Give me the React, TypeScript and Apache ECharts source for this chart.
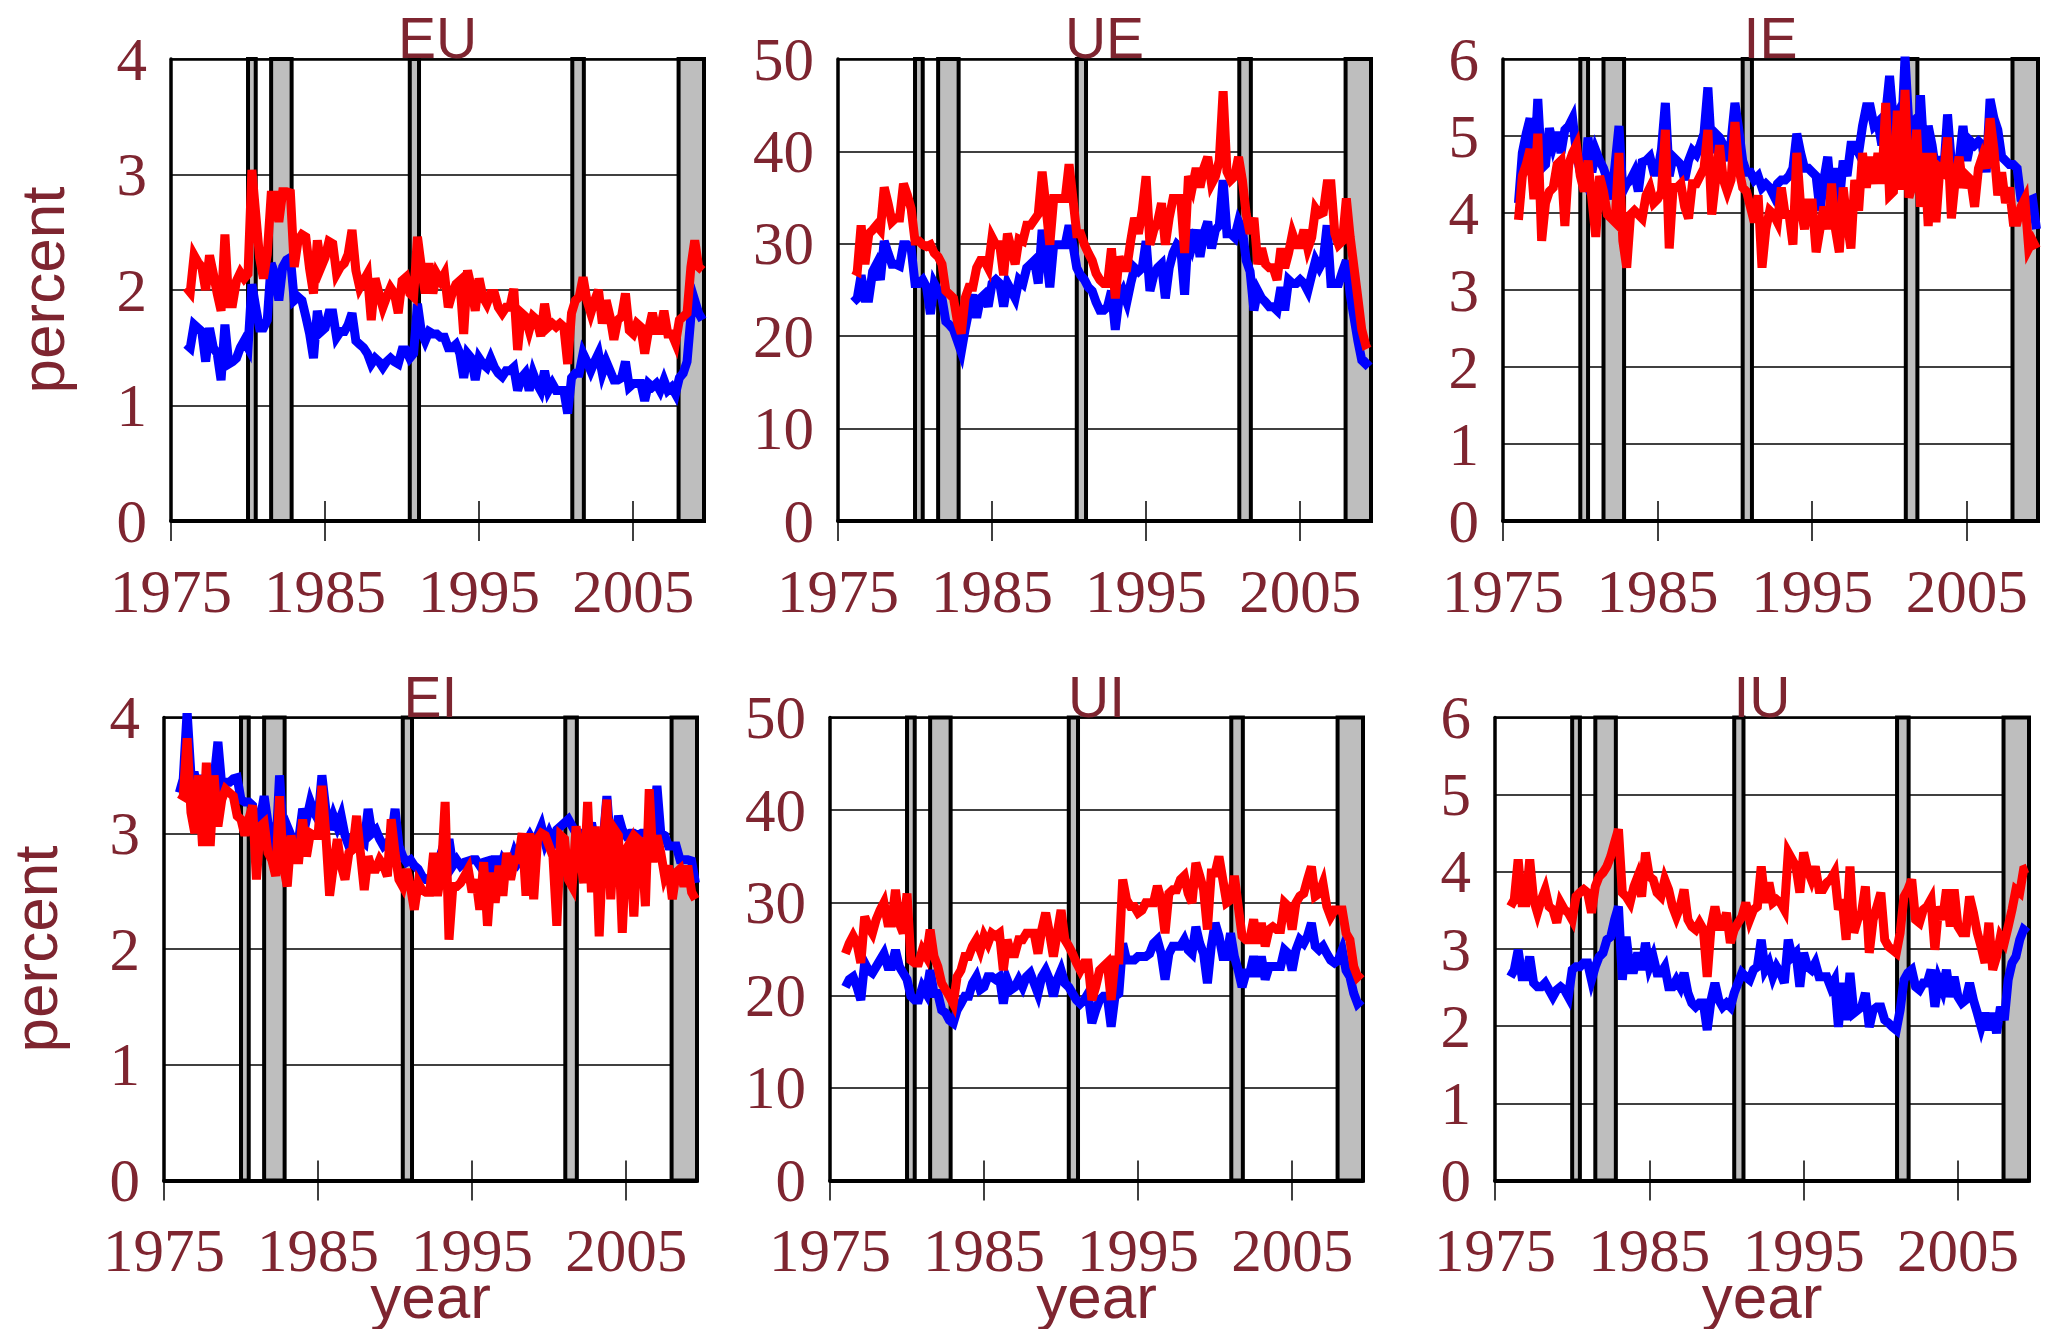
import React, { useEffect, useRef } from "react";
import * as echarts from "echarts";

// Quarterly observation dates, 1976Q1 .. 2009Q3 (as decimal years)
const QUARTERS: number[] = [];
for (let k = 0; k < 135; k++) QUARTERS.push(1976 + k * 0.25);

const X_TICKS = [1975, 1985, 1995, 2005];
const X_MIN = 1975;
const X_MAX = 2009.6;

// NBER recessions as drawn (start, end)
const RECESSIONS: number[][] = [
  [1980.0, 1980.5],
  [1981.5, 1982.83],
  [1990.5, 1991.1],
  [2001.05, 2001.8],
  [2007.95, 2009.6],
];

const PANEL_TITLES = ["EU", "UE", "IE", "EI", "UI", "IU"];
const Y_MAX = [4, 50, 6, 4, 50, 6];
const Y_STEP = [1, 10, 1, 1, 10, 1];

// ---- EU ----
const EU_BLUE = [
  1.53, 1.5, 1.7, 1.67,
  1.64, 1.38, 1.67, 1.5,
  1.45, 1.22, 1.7, 1.36,
  1.38, 1.41, 1.5, 1.56,
  1.5, 2.05, 1.85, 1.67,
  1.67, 1.74, 2.23, 2.14,
  1.91, 2.2, 2.26, 2.28,
  1.91, 1.94, 1.91, 1.77,
  1.62, 1.41, 1.82, 1.64,
  1.67, 1.8, 1.8, 1.59,
  1.64, 1.64, 1.7, 1.8,
  1.56, 1.53, 1.5, 1.45,
  1.36, 1.41, 1.38, 1.33,
  1.38, 1.41, 1.38, 1.36,
  1.48, 1.48, 1.41, 1.45,
  1.88, 1.64, 1.56, 1.64,
  1.62, 1.62, 1.59, 1.59,
  1.5, 1.5, 1.53, 1.45,
  1.24, 1.45, 1.41, 1.22,
  1.41, 1.36, 1.33, 1.41,
  1.33, 1.28, 1.25, 1.3,
  1.3, 1.33, 1.13, 1.24,
  1.28, 1.13, 1.28, 1.19,
  1.13, 1.3, 1.13, 1.19,
  1.13, 1.13, 1.13, 0.93,
  1.24, 1.28, 1.28, 1.45,
  1.38, 1.3, 1.38, 1.45,
  1.28, 1.38, 1.3, 1.22,
  1.22, 1.24, 1.38, 1.16,
  1.19, 1.19, 1.19, 1.04,
  1.19, 1.16, 1.19, 1.13,
  1.22, 1.13, 1.16, 1.1,
  1.24, 1.28, 1.38, 1.77,
  1.91, 1.8, 1.74,
];
const EU_RED = [
  2.02, 1.98, 2.3, 2.24,
  2.2, 2.0, 2.3, 2.14,
  1.97, 1.82, 2.48, 1.88,
  1.88, 2.08, 2.15, 2.1,
  2.14, 3.04, 2.66, 2.28,
  2.1, 2.31, 2.82, 2.82,
  2.59, 2.85, 2.85, 2.84,
  2.2, 2.43, 2.48, 2.46,
  2.18, 1.97, 2.43, 2.2,
  2.28, 2.42, 2.4, 2.14,
  2.2, 2.23, 2.31, 2.52,
  2.17, 2.02, 2.08, 2.14,
  1.74, 2.1, 1.97, 1.85,
  1.94, 2.02, 1.97, 1.8,
  2.08, 2.11, 1.97, 1.94,
  2.46, 2.2, 1.97, 2.23,
  1.97, 2.14, 2.08, 2.14,
  1.85, 1.97, 2.05, 2.08,
  1.62, 2.17, 2.02, 1.82,
  2.1, 1.94, 1.88, 1.97,
  1.97, 1.85, 1.8, 1.85,
  1.85, 2.01, 1.48, 1.8,
  1.77, 1.65, 1.77, 1.74,
  1.6, 1.88, 1.68, 1.71,
  1.68, 1.71, 1.68, 1.36,
  1.8, 1.91, 1.94, 2.11,
  1.91, 1.8, 1.91, 2.0,
  1.71, 1.91, 1.77, 1.57,
  1.74, 1.77, 1.97, 1.65,
  1.62, 1.71, 1.68, 1.45,
  1.65, 1.8, 1.65, 1.65,
  1.82, 1.62, 1.62, 1.54,
  1.74, 1.77, 1.8, 2.2,
  2.43, 2.2, 2.17,
];

// ---- UE ----
const UE_BLUE = [
  23.7, 24.1, 26.6, 24.1,
  24.1, 27.0, 27.8, 26.1,
  30.3, 29.0, 27.8, 27.8,
  27.6, 29.9, 29.9, 29.5,
  25.7, 25.7, 26.1, 25.3,
  22.4, 25.7, 24.9, 24.1,
  21.6, 21.2, 20.7, 19.5,
  18.3, 20.7, 22.8, 24.5,
  22.0, 24.1, 24.5, 23.2,
  25.7, 26.1, 25.7, 23.2,
  25.7, 24.9, 24.1, 26.1,
  25.7, 27.4, 27.8, 28.2,
  25.7, 31.5, 29.0, 25.3,
  29.9, 29.9, 29.9, 29.9,
  32.0, 29.9, 27.4, 26.6,
  26.1, 25.3, 24.9, 23.7,
  22.8, 22.8, 23.2, 24.9,
  20.7, 24.1, 24.9, 23.7,
  25.7, 27.4, 27.0, 27.4,
  30.3, 24.9, 26.6, 27.4,
  27.8, 24.1, 27.4, 29.0,
  29.9, 29.5, 24.5, 31.5,
  29.9, 31.5, 28.6, 31.1,
  32.4, 29.5, 31.5, 32.0,
  36.9, 31.1, 31.1, 30.7,
  32.4, 31.5, 28.2, 27.0,
  22.8, 24.9, 24.1, 23.7,
  23.2, 23.2, 22.8, 25.3,
  22.8, 26.1, 25.7, 25.7,
  26.1, 25.7, 24.9, 26.6,
  28.2, 27.4, 28.2, 32.0,
  25.7, 25.7, 25.7, 27.0,
  28.2, 24.5, 22.0, 19.5,
  17.4, 17.0, 17.4,
];
const UE_RED = [
  27.2, 27.0, 32.0, 27.8,
  31.1, 31.5, 32.0, 31.5,
  36.1, 34.4, 32.4, 32.8,
  32.8, 36.5, 35.3, 33.8,
  30.3, 30.3, 29.9, 29.7,
  29.9, 29.0, 28.6, 27.8,
  24.9, 24.5, 24.1, 21.6,
  20.3, 24.1, 25.3, 25.3,
  27.4, 28.2, 28.2, 27.4,
  30.7, 29.9, 29.9, 26.6,
  31.1, 29.5, 27.8, 30.5,
  30.3, 32.0, 32.0, 32.6,
  33.2, 37.8, 34.0, 29.9,
  34.9, 34.9, 34.9, 34.9,
  38.6, 34.9, 31.1, 31.1,
  29.9, 29.0, 28.2, 26.8,
  26.1, 25.7, 25.7, 29.5,
  24.1, 28.6, 27.4, 27.4,
  30.3, 32.8, 31.1, 33.6,
  37.3, 29.9, 31.5, 32.4,
  34.4, 29.9, 32.8, 34.9,
  34.9, 34.9, 29.0, 37.3,
  36.1, 38.2, 36.1, 38.2,
  39.4, 36.5, 37.3, 39.0,
  46.5, 37.8, 36.9, 37.3,
  39.4, 36.9, 33.2, 31.1,
  32.8, 27.8, 29.5, 27.8,
  27.4, 27.4, 26.1, 29.5,
  27.4, 29.0, 31.1, 29.9,
  29.9, 31.5, 29.5, 30.7,
  33.8, 33.2, 33.4, 36.5,
  36.5, 31.1, 29.9, 30.3,
  34.9, 30.7, 27.4, 24.1,
  20.7, 19.1, 19.3,
];

// ---- IE ----
const IE_BLUE = [
  4.13, 4.78, 5.03, 5.23,
  4.53, 5.48, 4.58, 4.63,
  5.1, 4.88, 5.05, 4.78,
  5.08, 5.13, 5.23, 4.78,
  4.53, 4.43, 4.98, 4.53,
  4.81, 4.68, 4.58, 4.43,
  4.18, 4.63, 5.13, 4.28,
  4.38, 4.43, 4.53, 4.28,
  4.66, 4.68, 4.73, 4.53,
  4.53, 4.83, 5.43, 4.48,
  4.73, 4.68, 4.63, 4.43,
  4.68, 4.81, 4.76, 4.88,
  5.03, 5.63, 4.78, 5.03,
  4.98, 4.88, 4.68, 4.93,
  5.43, 5.08, 4.68, 4.53,
  4.53, 4.43, 4.48, 4.33,
  4.38, 4.33, 4.23, 4.38,
  4.43, 4.43, 4.48, 4.58,
  5.03, 4.78, 4.58, 4.58,
  4.53, 4.48, 4.03, 4.43,
  4.73, 4.18, 4.58, 4.13,
  4.68, 4.48, 4.88, 4.88,
  4.78, 5.13, 5.38, 5.38,
  5.13, 5.18, 4.88, 5.28,
  5.78, 5.18, 5.28, 4.93,
  6.03, 5.13, 5.18, 4.38,
  5.53, 4.68, 5.13, 4.88,
  4.53, 4.73, 4.53, 5.28,
  4.63, 4.48, 4.68, 5.13,
  4.68, 4.93, 4.88, 4.93,
  4.88, 4.53, 5.48, 5.23,
  5.08, 4.73, 4.68, 4.63,
  4.63, 4.58, 4.18, 4.13,
  4.16, 4.18, 3.79,
];
const IE_RED = [
  3.91, 4.48, 4.63, 4.83,
  4.18, 5.03, 3.64, 4.13,
  4.28, 4.33, 4.63, 4.68,
  3.83, 4.63, 4.78, 4.88,
  4.48, 4.28, 4.68, 4.18,
  3.69, 4.48, 4.28, 3.98,
  3.93, 3.88, 4.78, 3.64,
  3.29, 3.98, 4.03, 3.98,
  3.93, 4.23, 4.33, 4.13,
  4.18, 4.28, 5.08, 3.54,
  4.33, 4.33, 4.38, 4.08,
  3.93, 4.38, 4.38, 4.48,
  4.58, 5.08, 3.98, 4.43,
  4.88, 4.43, 4.28, 4.43,
  5.18, 4.58, 4.33, 4.28,
  4.08, 3.88, 4.23, 3.29,
  3.79, 4.03, 3.98, 3.88,
  4.33, 3.98, 3.98, 3.59,
  4.78, 4.08, 3.79, 4.13,
  4.13, 3.49, 3.79, 4.08,
  3.79, 4.38, 3.79, 3.49,
  4.33, 3.88, 3.54, 4.43,
  4.03, 4.78, 4.33, 4.73,
  4.38, 4.78, 4.38, 5.43,
  4.23, 4.28, 5.33, 4.3,
  5.6, 4.2, 4.38, 5.08,
  4.08, 4.78, 3.83, 4.78,
  3.88, 4.58, 4.53, 4.98,
  3.93, 4.43, 4.73, 4.33,
  4.48, 4.43, 4.08, 4.58,
  4.73, 4.58, 5.23, 4.83,
  4.23, 4.53, 4.13, 4.33,
  3.88, 3.88, 4.08, 4.18,
  3.54, 3.64, 3.54,
];

// ---- EI ----
const EI_BLUE = [
  3.35, 3.47, 4.05, 3.5,
  3.5, 3.35, 3.5, 3.32,
  3.27, 3.47, 3.79, 3.41,
  3.44, 3.44, 3.47, 3.48,
  3.29, 3.27, 3.27, 3.24,
  2.98, 3.12, 3.32, 3.09,
  3.0, 2.83, 3.5, 2.98,
  3.06, 2.98, 2.89, 2.95,
  3.21, 3.12, 3.27, 3.18,
  3.12, 3.5, 3.21, 3.03,
  3.15, 3.06, 3.15, 2.98,
  2.89, 2.95, 3.03, 2.95,
  2.92, 3.21, 3.0, 3.03,
  2.95, 2.89, 2.92, 2.95,
  3.21, 2.89, 2.8, 2.75,
  2.77, 2.72, 2.69, 2.63,
  2.6, 2.6, 2.66, 2.72,
  2.83, 2.75, 2.95, 2.72,
  2.77, 2.72, 2.75, 2.76,
  2.77, 2.77, 2.72, 2.75,
  2.76, 2.66, 2.8, 2.66,
  2.77, 2.72, 2.72, 2.83,
  2.75, 2.8, 2.92, 2.98,
  2.92, 2.98, 3.06, 2.92,
  3.0, 2.92, 3.03, 3.06,
  3.09, 3.12, 3.06, 3.0,
  3.0, 3.0, 2.98, 3.09,
  2.92, 2.83, 2.92, 3.32,
  2.89, 2.86, 3.15, 3.03,
  2.98, 3.0, 3.0, 2.98,
  3.0, 3.0, 3.03, 3.03,
  3.41, 3.0, 2.98, 2.89,
  2.89, 2.89, 2.77, 2.77,
  2.77, 2.76, 2.57,
];
const EI_RED = [
  3.34, 3.32, 3.82, 3.18,
  3.0, 3.5, 2.89, 3.61,
  2.89, 3.5, 3.06, 3.29,
  3.38, 3.35, 3.32, 3.15,
  3.12, 2.98, 3.12, 3.24,
  2.6, 3.06, 3.09, 2.83,
  2.77, 2.63, 3.32, 2.72,
  2.54, 2.98, 2.77, 2.77,
  3.12, 2.8, 3.0, 2.98,
  2.98, 3.41, 3.0, 2.46,
  2.72, 2.95, 2.72, 2.6,
  2.83, 2.86, 3.15, 2.83,
  2.51, 2.8, 2.69, 2.69,
  2.77, 2.72, 2.63, 3.12,
  2.83, 2.6, 2.54, 2.69,
  2.54, 2.34, 2.57, 2.51,
  2.49, 2.49, 2.83, 2.46,
  2.66, 3.27, 2.08, 2.54,
  2.54, 2.57, 2.63, 2.69,
  2.49, 2.6, 2.34, 2.75,
  2.2, 2.66, 2.4, 2.72,
  2.46, 2.83, 2.6, 2.77,
  2.77, 3.0, 2.46, 3.0,
  2.43, 2.95, 3.0, 2.98,
  2.89, 2.8, 2.2, 2.98,
  2.95, 2.6, 2.54, 3.06,
  2.8, 2.57, 3.27, 2.49,
  3.06, 2.11, 2.89, 3.29,
  2.43, 3.03, 2.98, 2.14,
  2.86, 2.92, 2.28, 2.95,
  2.92, 2.37, 3.38, 2.75,
  2.98, 2.83, 2.63, 2.72,
  2.43, 2.66, 2.69, 2.54,
  2.72, 2.49, 2.43,
];

// ---- UI ----
const UI_BLUE = [
  20.9, 21.7, 22.0, 20.9,
  19.5, 23.5, 22.7, 22.4,
  23.1, 23.8, 24.5, 23.1,
  23.1, 24.9, 23.1, 22.4,
  21.7, 19.9, 19.5, 19.5,
  20.9, 20.2, 22.7, 20.2,
  20.2, 18.4, 18.1, 17.3,
  17.0, 18.4, 19.1, 19.9,
  19.9, 21.3, 22.0, 20.6,
  20.9, 22.0, 22.0, 21.7,
  22.0, 19.1, 21.7, 20.6,
  20.9, 21.7, 20.9, 22.0,
  22.4, 21.3, 20.2, 22.0,
  22.7, 21.7, 19.9, 21.7,
  22.7, 21.3, 20.9, 20.2,
  19.5, 19.1, 19.5, 20.2,
  17.0, 18.4, 19.5, 19.9,
  19.9, 16.6, 19.9, 20.2,
  25.6, 23.8, 23.8, 23.8,
  24.2, 24.2, 24.2, 24.5,
  25.6, 26.0, 24.5, 21.7,
  24.5, 25.3, 25.3, 25.3,
  26.0, 24.9, 24.5, 27.4,
  25.6, 24.5, 21.3, 25.3,
  27.8, 26.4, 24.2, 24.2,
  26.7, 24.2, 22.7, 20.9,
  22.4, 22.4, 24.2, 22.0,
  24.2, 21.7, 23.1, 23.1,
  23.1, 23.1, 24.9, 24.5,
  22.7, 24.9, 26.0, 25.6,
  26.4, 27.8, 25.3, 24.9,
  25.3, 24.5, 23.8, 23.5,
  23.8, 24.9, 22.7, 22.0,
  20.2, 19.1, 19.5,
];
const UI_RED = [
  24.5, 25.6, 26.4, 25.6,
  23.5, 28.5, 27.4, 26.7,
  28.2, 29.2, 30.0, 27.8,
  27.8, 31.4, 27.8, 26.7,
  31.0, 23.8, 23.5, 23.5,
  24.9, 24.2, 27.1, 24.2,
  23.1, 21.3, 20.6, 19.9,
  19.1, 22.0, 22.7, 24.2,
  24.2, 25.3, 26.0, 24.9,
  26.4, 25.6, 26.7, 26.4,
  26.7, 22.7, 26.0, 24.5,
  24.5, 26.0, 26.0, 26.7,
  26.7, 26.7, 24.5, 27.1,
  28.9, 26.7, 24.2, 26.7,
  29.2, 26.0, 25.3, 24.5,
  23.5, 22.7, 23.5, 23.5,
  19.5, 20.9, 22.7, 23.1,
  23.5, 19.5, 23.8, 23.8,
  32.5, 30.3, 29.6, 29.6,
  28.9, 29.2, 30.0, 30.0,
  30.0, 31.8, 30.3, 26.7,
  31.0, 31.4, 31.4, 32.5,
  32.9, 31.0, 30.0, 34.3,
  32.9, 31.4, 27.1, 33.2,
  33.2, 35.0, 32.5, 30.0,
  30.3, 32.9, 29.6, 26.4,
  26.0, 26.0, 28.2, 25.6,
  27.8, 25.3, 27.1, 27.4,
  27.1, 27.1, 30.0, 29.6,
  27.1, 30.0, 30.7, 31.0,
  32.5, 33.9, 30.7, 31.0,
  32.1, 29.6, 28.5, 29.2,
  29.2, 29.2, 26.7, 26.0,
  23.1, 22.0, 22.4,
];

// ---- IU ----
const IU_BLUE = [
  2.64, 2.73, 2.99, 2.64,
  2.64, 2.9, 2.56, 2.51,
  2.51, 2.56, 2.47, 2.38,
  2.47, 2.51, 2.47, 2.38,
  2.73, 2.77, 2.77, 2.82,
  2.82, 2.6, 2.77, 2.9,
  2.95, 3.12, 3.16, 3.38,
  3.55, 2.6, 3.16, 2.73,
  2.73, 2.95, 2.73, 3.08,
  2.77, 2.9, 2.69, 2.69,
  2.77, 2.51, 2.51, 2.6,
  2.51, 2.69, 2.43, 2.3,
  2.25, 2.3, 2.3, 1.95,
  2.34, 2.56, 2.34, 2.25,
  2.3, 2.25, 2.43, 2.56,
  2.69, 2.64, 2.6, 2.73,
  2.77, 3.12, 2.73, 2.82,
  2.64, 2.77, 2.69, 2.56,
  3.12, 2.9, 2.95, 2.51,
  2.95, 2.77, 2.73, 2.82,
  2.64, 2.64, 2.64, 2.51,
  2.6, 1.99, 2.56, 2.08,
  2.69, 2.17, 2.21, 2.25,
  2.43, 1.99, 2.21, 2.25,
  2.25, 2.08, 2.04, 1.99,
  1.95, 2.21, 2.6, 2.69,
  2.73, 2.51, 2.47, 2.56,
  2.56, 2.73, 2.25, 2.6,
  2.47, 2.73, 2.38, 2.64,
  2.38, 2.3, 2.34, 2.56,
  2.34, 2.17, 1.99, 2.17,
  1.95, 2.17, 1.91, 2.25,
  2.08, 2.6, 2.82, 2.9,
  3.12, 3.25, 3.21,
];
const IU_RED = [
  3.55, 3.64, 4.16, 3.6,
  3.6, 4.16, 3.64, 3.47,
  3.64, 3.77, 3.55, 3.51,
  3.34, 3.6, 3.51, 3.47,
  3.38, 3.68, 3.73, 3.77,
  3.73, 3.47, 3.81, 3.94,
  3.99, 4.07, 4.2, 4.38,
  4.55, 3.73, 3.68, 3.6,
  3.81, 3.94, 3.68, 4.25,
  3.94, 3.9, 3.73, 3.68,
  3.9, 3.77, 3.55, 3.42,
  3.55, 3.77, 3.38, 3.29,
  3.25, 3.34, 3.25, 2.64,
  3.29, 3.55, 3.29, 3.29,
  3.47, 3.08, 3.25, 3.34,
  3.42, 3.6, 3.38, 3.51,
  3.55, 4.07, 3.6, 3.86,
  3.6, 3.64, 3.6, 3.51,
  4.25, 4.16, 4.07, 3.73,
  4.25, 4.03, 3.9, 4.07,
  3.77, 3.77, 3.86, 3.9,
  3.99, 3.51, 3.64, 3.12,
  4.07, 3.21, 3.38, 3.47,
  3.81, 2.95, 3.38, 3.55,
  3.73, 3.12, 3.03, 2.99,
  2.95, 3.21, 3.68, 3.77,
  3.9, 3.38, 3.34, 3.51,
  3.55, 3.64, 2.99, 3.55,
  3.38, 3.77, 3.29, 3.77,
  3.29, 3.21, 3.21, 3.68,
  3.47, 3.21, 3.03, 2.82,
  3.34, 2.73, 2.9, 3.16,
  3.08, 3.29, 3.51, 3.77,
  3.73, 4.03, 4.05,
];

const BLUE_SERIES = [EU_BLUE, UE_BLUE, IE_BLUE, EI_BLUE, UI_BLUE, IU_BLUE];
const RED_SERIES = [EU_RED, UE_RED, IE_RED, EI_RED, UI_RED, IU_RED];

// ---- layout & style (kept apart from the data) ----
const LAYOUT = [
  { left: 171, top: 59, width: 533, height: 462 },
  { left: 838, top: 59, width: 533, height: 462 },
  { left: 1503, top: 59, width: 535, height: 462 },
  { left: 164, top: 717.5, width: 533, height: 463 },
  { left: 830, top: 717.5, width: 533, height: 463 },
  { left: 1495, top: 717.5, width: 534, height: 463 },
];
const TEXT_COLOR = "#7e2530";
const SERIF = '"Liberation Serif", "DejaVu Serif", serif';
const SANS = '"Liberation Sans", Arial, sans-serif';
const LINE_W = 9;

function buildOption() {
  const grid: any[] = [];
  const xAxis: any[] = [];
  const yAxis: any[] = [];
  const series: any[] = [];
  const graphic: any[] = [];

  LAYOUT.forEach((l, i) => {
    grid.push({
      left: l.left,
      top: l.top,
      width: l.width,
      height: l.height,
      containLabel: false,
      outerBoundsMode: "none",
    });
    // main bottom axis: line, outside ticks, labels
    xAxis.push({
      gridIndex: i,
      type: "value",
      min: X_MIN,
      max: X_MAX,
      position: "bottom",
      axisLine: { show: true, onZero: false, lineStyle: { color: "#000", width: 4 } },
      axisTick: {
        show: true,
        customValues: X_TICKS,
        length: 20,
        inside: false,
        lineStyle: { color: "#000", width: 1.5 },
      },
      axisLabel: {
        show: true,
        customValues: X_TICKS,
        formatter: (v: number) => String(Math.round(v)),
        margin: 48,
        fontSize: 61,
        lineHeight: 44,
        fontFamily: SERIF,
        color: TEXT_COLOR,
      },
      splitLine: { show: false },
    });
    // inside ticks
    xAxis.push({
      gridIndex: i,
      type: "value",
      min: X_MIN,
      max: X_MAX,
      position: "bottom",
      axisLine: { show: false, onZero: false },
      axisTick: {
        show: true,
        customValues: X_TICKS,
        length: 20,
        inside: true,
        lineStyle: { color: "#000", width: 1.5 },
      },
      axisLabel: { show: false },
      splitLine: { show: false },
    });
    // top frame
    xAxis.push({
      gridIndex: i,
      type: "value",
      min: X_MIN,
      max: X_MAX,
      position: "top",
      axisLine: { show: true, onZero: false, lineStyle: { color: "#000", width: 2.5 } },
      axisTick: { show: false },
      axisLabel: { show: false },
      splitLine: { show: false },
    });
    yAxis.push({
      gridIndex: i,
      type: "value",
      min: 0,
      max: Y_MAX[i],
      interval: Y_STEP[i],
      axisLine: { show: true, onZero: false, lineStyle: { color: "#000", width: 3.5 } },
      axisTick: { show: false },
      axisLabel: {
        margin: 24,
        fontSize: 61,
        fontFamily: SERIF,
        color: TEXT_COLOR,
      },
      splitLine: { show: true, lineStyle: { color: "#000", width: 1.5 } },
    });

    const yMax = Y_MAX[i];
    series.push({
      type: "custom",
      xAxisIndex: i * 3,
      yAxisIndex: i,
      data: RECESSIONS,
      encode: { x: [0, 1] },
      z: 2,
      silent: true,
      renderItem: (_params: any, api: any) => {
        const p0 = api.coord([api.value(0), yMax]);
        const p1 = api.coord([api.value(1), 0]);
        return {
          type: "rect",
          shape: { x: p0[0], y: p0[1], width: p1[0] - p0[0], height: p1[1] - p0[1] },
          style: { fill: "#bebebe", stroke: "#000", lineWidth: 4 },
        };
      },
    });
    series.push({
      type: "line",
      xAxisIndex: i * 3,
      yAxisIndex: i,
      data: QUARTERS.map((q, k) => [q, BLUE_SERIES[i][k]]),
      symbol: "none",
      showSymbol: false,
      silent: true,
      z: 3,
      lineStyle: { color: "#0000ff", width: LINE_W, join: "miter", miterLimit: 4 },
    });
    series.push({
      type: "line",
      xAxisIndex: i * 3,
      yAxisIndex: i,
      data: QUARTERS.map((q, k) => [q, RED_SERIES[i][k]]),
      symbol: "none",
      showSymbol: false,
      silent: true,
      z: 4,
      lineStyle: { color: "#ff0000", width: LINE_W, join: "miter", miterLimit: 4 },
    });

    // panel title
    const cx = l.left + l.width / 2;
    graphic.push({
      type: "text",
      x: cx,
      y: l.top - 21,
      z: 10,
      style: {
        text: PANEL_TITLES[i],
        fill: TEXT_COLOR,
        font: `57px ${SANS}`,
        lineHeight: 57,
        align: "center",
        verticalAlign: "middle",
      },
    });
    // x axis name in bottom row
    if (i >= 3) {
      graphic.push({
        type: "text",
        x: cx,
        y: 1296,
        z: 10,
        style: {
          text: "year",
          fill: TEXT_COLOR,
          font: `62px ${SANS}`,
          lineHeight: 40,
          align: "center",
          verticalAlign: "middle",
        },
      });
    }
  });

  // y axis names
  graphic.push({
    type: "text",
    x: 42,
    y: 290,
    rotation: Math.PI / 2,
    z: 10,
    style: {
      text: "percent",
      fill: TEXT_COLOR,
      font: `62px ${SANS}`,
      lineHeight: 60,
      align: "center",
      verticalAlign: "middle",
    },
  });
  graphic.push({
    type: "text",
    x: 35,
    y: 949,
    rotation: Math.PI / 2,
    z: 10,
    style: {
      text: "percent",
      fill: TEXT_COLOR,
      font: `62px ${SANS}`,
      lineHeight: 60,
      align: "center",
      verticalAlign: "middle",
    },
  });

  return {
    animation: false,
    backgroundColor: "#ffffff",
    grid,
    xAxis,
    yAxis,
    series,
    graphic,
  };
}

export default function App() {
  const ref = useRef<HTMLDivElement>(null);
  useEffect(() => {
    if (!ref.current) return;
    const chart = echarts.init(ref.current, undefined, { renderer: "svg" });
    chart.setOption(buildOption() as any);
    return () => chart.dispose();
  }, []);
  return (
    <div
      ref={ref}
      style={{ position: "fixed", left: 0, top: 0, width: 2053, height: 1329, background: "#fff" }}
    />
  );
}
